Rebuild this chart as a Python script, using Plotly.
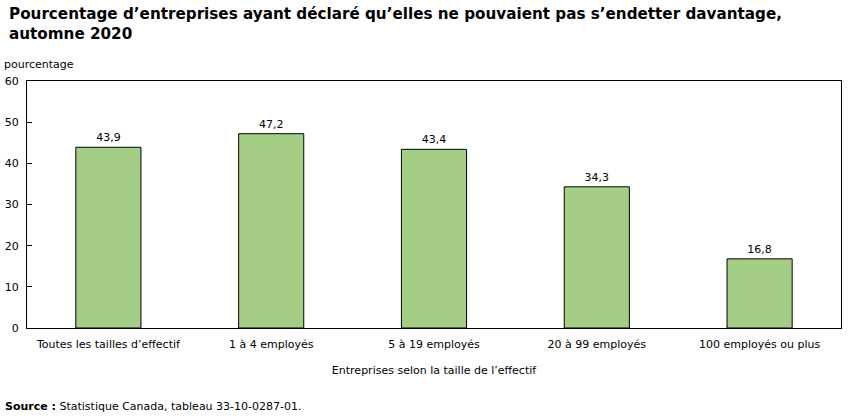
import plotly.graph_objects as go

categories = ["Toutes les tailles d\u2019effectif", "1 \u00e0 4 employ\u00e9s", "5 \u00e0 19 employ\u00e9s",
              "20 \u00e0 99 employ\u00e9s", "100 employ\u00e9s ou plus"]
values = [43.9, 47.2, 43.4, 34.3, 16.8]
value_labels = ["43,9", "47,2", "43,4", "34,3", "16,8"]
y_ticks = [0, 10, 20, 30, 40, 50, 60]

FONT = "DejaVu Sans, Verdana, sans-serif"
PLOT_H = 247
PLOT_W = 814

fig = go.Figure()
fig.add_trace(go.Bar(
    x=categories, y=values, width=0.4,
    marker=dict(color="#a4cd86", line=dict(color="#000000", width=1)),
    text=value_labels, textposition="outside", cliponaxis=False,
    textfont=dict(family=FONT, size=11, color="#000000"),
    hoverinfo="skip",
))

fig.update_layout(
    width=851, height=416,
    margin=dict(l=27, r=10, t=81, b=88),
    paper_bgcolor="white", plot_bgcolor="white",
    font=dict(family=FONT, size=11, color="#000000"),
    showlegend=False,
    xaxis=dict(
        automargin=False,
        showline=True, linecolor="#000000", linewidth=1, mirror=True,
        ticks="", showgrid=False, tickfont=dict(size=11), ticklabelstandoff=6,
        title=dict(text="Entreprises selon la taille de l\u2019effectif", font=dict(size=11), standoff=16),
    ),
    yaxis=dict(
        automargin=False,
        range=[0, 60], tickvals=y_ticks, ticktext=[str(v) for v in y_ticks],
        showline=True, linecolor="#000000", linewidth=1, mirror=True,
        ticks="inside", ticklen=5, tickcolor="#000000", showgrid=False, zeroline=False,
        tickfont=dict(size=11), ticklabelstandoff=5,
    ),
    annotations=[
        dict(text="<b>Pourcentage d\u2019entreprises ayant d\u00e9clar\u00e9 qu\u2019elles ne pouvaient pas s\u2019endetter davantage,<br>automne 2020</b>",
             xref="paper", yref="paper", x=-20/PLOT_W, y=1 + 78/PLOT_H,
             xanchor="left", yanchor="top", align="left", showarrow=False,
             font=dict(family=FONT, size=15.2, color="#000000")),
        dict(text="pourcentage", xref="paper", yref="paper", x=-25/PLOT_W, y=1 + 8/PLOT_H,
             xanchor="left", yanchor="bottom", showarrow=False, font=dict(size=11)),
        dict(text="<b>Source\u00a0:</b> Statistique Canada, tableau 33-10-0287-01.", xref="paper", yref="paper",
             x=-24/PLOT_W, y=-70/PLOT_H, xanchor="left", yanchor="top", showarrow=False, font=dict(size=11)),
    ],
)

fig.write_html("out.html")
